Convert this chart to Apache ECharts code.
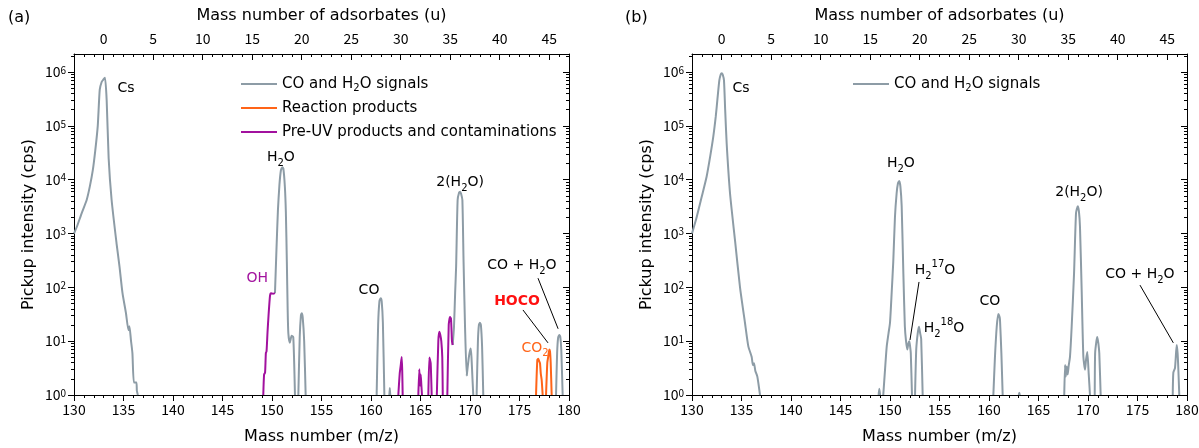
<!DOCTYPE html>
<html>
<head>
<meta charset="utf-8">
<script src="https://cdn.jsdelivr.net/npm/echarts@6/dist/echarts.min.js"></script>
<style>
  html, body { margin: 0; padding: 0; background: #fff; }
  #chart { width: 1199px; height: 448px; }
</style>
</head>
<body>
<div id="chart"></div>
<script>
// ---- data (m/z, counts per second); null = gap in the trace ----
// panel (a)
const grayAMz = [130.0, 130.3, 130.78, 131.28, 131.6, 131.9, 132.15, 132.4, 132.6, 132.8, 132.95, 133.13, 133.3, 133.5, 133.8, 134.3, 134.6, 134.9, 135.25, 135.5, 135.6, 135.75, 135.9, 136.05, 136.3, 136.35, 136.45,
  143,
  150.3, 150.45, 150.6, 150.75, 150.9, 151.05, 151.15, 151.3, 151.4, 151.5, 151.58, 151.65, 151.8, 151.98, 152.15, 152.32,
  152.5,
  152.66, 152.8, 152.92, 153.0, 153.1, 153.25, 153.4,
  157,
  160.57, 160.72, 160.85, 160.98, 161.08, 161.2, 161.35,
  161.6,
  161.85, 161.9, 161.95,
  165,
  168.25, 168.38, 168.5, 168.6, 168.75, 168.9, 169.0, 169.1, 169.23, 169.35, 169.5, 169.67, 169.73, 169.85, 169.95, 170.07, 170.15, 170.25, 170.33,
  170.5,
  170.67, 170.8, 170.9, 171.0, 171.1, 171.22, 171.34,
  175,
  178.69, 178.8, 178.9, 179.02, 179.12, 179.22, 179.36];
const grayACps = [1000, 1350, 2400, 4200, 7500, 15000, 35000, 100000, 470000, 660000, 720000, 780000, 300000, 25000, 4200, 650, 240, 78, 33, 16, 19, 10.5, 6, 1.7, 1.7, 1.2, 1,
  null,
  78, 500, 2750, 8000, 15000, 17000, 16000, 7400, 2500, 300, 40, 14, 9.3, 12.6, 11.8, 1,
  null,
  1, 12, 30, 33, 28, 10, 1,
  null,
  1, 20, 55, 63, 55, 22, 1,
  null,
  1, 1.35, 1,
  null,
  8.5, 18, 80, 250, 4200, 5800, 6000, 5500, 4200, 300, 18, 2.3, 2.3, 4.5, 6, 7.3, 5, 2, 1,
  null,
  1, 10, 20, 22, 20, 8, 1,
  null,
  1, 6, 11.5, 13, 12, 7, 1];

const orangeAMz = [176.67, 176.8, 176.9, 177.0, 177.07, 177.15, 177.24, 177.34,
  177.5,
  177.68, 177.81, 177.9, 178.01, 178.08, 178.15, 178.25];
const orangeACps = [1, 4.5, 4.7, 4.2, 3.9, 2.5, 1.9, 1,
  null,
  1, 4, 5.1, 7, 6.5, 4, 1];

const purpleAMz = [149.12, 149.2, 149.3, 149.38, 149.45, 149.55, 149.65, 149.8, 149.9, 150.1, 150.3,
  155,
  162.76, 162.9, 163.0, 163.1, 163.15, 163.2,
  164,
  164.78, 164.88, 164.95, 165.02, 165.08, 165.15,
  165.5,
  165.79, 165.89, 165.96, 166.03, 166.13,
  166.4,
  166.65, 166.8, 166.9, 167.0, 167.1, 167.2, 167.25,
  167.5,
  167.71, 167.85, 167.98, 168.08, 168.18, 168.25];
const purpleACps = [1, 2.4, 2.6, 6, 6.5, 15, 30, 70, 78, 76, 78,
  null,
  1, 2.5, 3.5, 5.1, 3, 1,
  null,
  1, 3, 1.5, 2.4, 1.6, 1,
  null,
  1, 5, 4.5, 3.9, 1,
  null,
  1, 10, 15, 13, 10, 5, 1,
  null,
  1, 20, 28, 26, 10, 8.5];

// panel (b)
const grayBMz = [130.0, 130.47, 130.98, 131.48, 131.85, 132.15, 132.4, 132.56, 132.76, 132.9, 133.0, 133.1, 133.23, 133.35, 133.5, 133.84, 134.34, 134.85, 135.35, 135.69, 136.03, 136.15, 136.26, 136.4, 136.6, 136.87,
  143,
  148.85, 148.92, 149.0,
  149.15,
  149.32, 149.5, 149.67, 149.85, 150.0, 150.17, 150.33, 150.5, 150.67, 150.8, 150.93, 151.05, 151.18, 151.35, 151.5, 151.62, 151.75, 151.85, 151.95, 152.03, 152.1, 152.22,
  152.4,
  152.53, 152.65, 152.8, 152.93, 153.05, 153.15, 153.3,
  157,
  160.44, 160.6, 160.78, 160.94, 161.05, 161.11, 161.25, 161.38,
  162,
  163.0, 163.06, 163.12,
  165,
  167.6, 167.68, 167.75, 167.85, 167.95, 168.05, 168.18, 168.35, 168.59, 168.79, 168.96, 169.08, 169.19, 169.36, 169.53, 169.7, 169.8, 169.93, 170.07, 170.2,
  170.45,
  170.68, 170.72, 170.85, 170.94, 171.05, 171.14, 171.28,
  175,
  178.56, 178.62, 178.79, 178.96, 179.05, 179.12, 179.22];
const grayBCps = [1000, 2000, 4800, 11500, 28000, 63000, 150000, 300000, 700000, 900000, 950000, 900000, 700000, 200000, 48000, 5600, 760, 100, 22, 8, 5.1, 3.6, 3.9, 2.8, 2.2, 1,
  null,
  1, 1.3, 1,
  null,
  1, 3, 8, 14, 22, 80, 300, 2000, 5600, 8500, 9500, 7500, 3200, 180, 19, 10, 7, 9, 10, 8, 6, 1,
  null,
  1, 7, 14, 18.5, 14, 11, 1,
  null,
  1, 5, 18.5, 32, 29, 25, 6, 1,
  null,
  1, 1.1, 1,
  null,
  1, 3.6, 2.2, 3.4, 2.4, 3.5, 5.1, 18.5, 180, 2400, 3200, 2600, 1340, 89, 5.2, 2.95, 4.5, 6.3, 2.5, 1,
  null,
  1, 6, 10, 12, 9, 6, 1,
  null,
  1, 2.6, 3.2, 8.5, 6, 3.2, 1];

// axis ticks
const topTicks = [0, 5, 10, 15, 20, 25, 30, 35, 40, 45];
const decadeExps = [0, 1, 2, 3, 4, 5, 6];

const GRAY = 'CO and H2O signals';
const ORANGE = 'Reaction products';
const PURPLE = 'Pre-UV products and contaminations';

const FONT_TXT = '"DejaVu Sans", sans-serif';
const FONT_NUM = '"Noto Sans CJK JP", "Noto Sans", sans-serif';
const C_GRAY = '#8d9ca6';
const C_ORANGE = '#ff6418';
const C_PURPLE = '#a2119e';

const Y_TOP_EXP = 6.335; // top border of the plot in decades
const X_MIN = 130, X_MAX = 180, U_OFFSET = 133;

const pairs = (xs, ys) => xs.map((x, i) => [x, ys[i]]);

// minor ticks on the log axis (2..9 x 10^n), in decade units
const minorExps = [];
for (let n = 0; n <= 6; n++) {
  for (let k = 2; k <= 9; k++) {
    const e = n + Math.log10(k);
    if (e < Y_TOP_EXP) minorExps.push(e);
  }
}
const topMinor = [];
for (let u = X_MIN - U_OFFSET + 1; u < X_MAX - U_OFFSET; u++) topMinor.push(u);

const richFor = (font, size) => ({
  sub: { fontSize: size, lineHeight: size, verticalAlign: 'bottom', fontFamily: font },
  sup: { fontSize: size, lineHeight: size, verticalAlign: 'top', fontFamily: font }
});

const chart = echarts.init(document.getElementById('chart'));

const grids = [
  { left: 74, right: 630, top: 54, bottom: 53, outerBoundsMode: 'none', containLabel: false },
  { left: 692, right: 12, top: 54, bottom: 53, outerBoundsMode: 'none', containLabel: false }
];

const noLine = { show: false, onZero: false };
const xAxes = [];
const yAxes = [];
grids.forEach((g, p) => {
  // bottom m/z axis
  xAxes.push({
    type: 'value', gridIndex: p, position: 'bottom', min: X_MIN, max: X_MAX, interval: 5,
    name: 'Mass number (m/z)', nameLocation: 'middle', nameGap: 34,
    nameTextStyle: { fontSize: 16, color: '#000', fontFamily: FONT_TXT },
    axisLine: { show: true, onZero: false, lineStyle: { color: '#000', width: 1 } },
    axisTick: { show: true, inside: false, length: 6, lineStyle: { color: '#000' } },
    minorTick: { show: true, splitNumber: 5, length: 3, lineStyle: { color: '#000' } },
    axisLabel: { fontSize: 14, color: '#000', margin: 8, fontFamily: FONT_NUM },
    splitLine: { show: false }
  });
  // top adsorbate axis
  xAxes.push({
    type: 'value', gridIndex: p, position: 'top', min: X_MIN - U_OFFSET, max: X_MAX - U_OFFSET,
    name: 'Mass number of adsorbates (u)', nameLocation: 'middle', nameGap: 30,
    nameTextStyle: { fontSize: 16, color: '#000', fontFamily: FONT_TXT },
    axisLine: { show: true, onZero: false, lineStyle: { color: '#000', width: 1 } },
    axisTick: { show: true, inside: true, length: 6, customValues: topTicks, lineStyle: { color: '#000' } },
    axisLabel: { fontSize: 14, color: '#000', margin: 8, customValues: topTicks, fontFamily: FONT_NUM },
    splitLine: { show: false }
  });
  xAxes.push({
    type: 'value', gridIndex: p, position: 'top', min: X_MIN - U_OFFSET, max: X_MAX - U_OFFSET,
    axisLine: noLine,
    axisTick: { show: true, inside: true, length: 3, customValues: topMinor, lineStyle: { color: '#000' } },
    axisLabel: { show: false },
    splitLine: { show: false }
  });

  // log axis that carries the data
  yAxes.push({ type: 'log', logBase: 10, gridIndex: p, min: 1, max: Math.pow(10, Y_TOP_EXP), show: false });
  // left decades
  yAxes.push({
    type: 'value', gridIndex: p, position: 'left', min: 0, max: Y_TOP_EXP,
    name: 'Pickup intensity (cps)', nameLocation: 'middle', nameGap: 37,
    nameTextStyle: { fontSize: 16, color: '#000', fontFamily: FONT_TXT },
    axisLine: { show: true, onZero: false, lineStyle: { color: '#000', width: 1 } },
    axisTick: { show: true, inside: false, length: 6, customValues: decadeExps, lineStyle: { color: '#000' } },
    axisLabel: {
      customValues: decadeExps, margin: 8, fontSize: 14, color: '#000', fontFamily: FONT_NUM,
      formatter: v => '10{sup|' + Math.round(v) + '}',
      rich: richFor(FONT_NUM, 10)
    },
    splitLine: { show: false }
  });
  yAxes.push({
    type: 'value', gridIndex: p, position: 'left', min: 0, max: Y_TOP_EXP,
    axisLine: noLine,
    axisTick: { show: true, inside: false, length: 3, customValues: minorExps, lineStyle: { color: '#000' } },
    axisLabel: { show: false },
    splitLine: { show: false }
  });
  // right mirror
  yAxes.push({
    type: 'value', gridIndex: p, position: 'right', min: 0, max: Y_TOP_EXP,
    axisLine: { show: true, onZero: false, lineStyle: { color: '#000', width: 1 } },
    axisTick: { show: true, inside: true, length: 6, customValues: decadeExps, lineStyle: { color: '#000' } },
    axisLabel: { show: false },
    splitLine: { show: false }
  });
  yAxes.push({
    type: 'value', gridIndex: p, position: 'right', min: 0, max: Y_TOP_EXP,
    axisLine: noLine,
    axisTick: { show: true, inside: true, length: 3, customValues: minorExps, lineStyle: { color: '#000' } },
    axisLabel: { show: false },
    splitLine: { show: false }
  });
});

const lineSeries = (name, p, data, color, extra) => Object.assign({
  name: name, type: 'line', xAxisIndex: 3 * p, yAxisIndex: 5 * p,
  data: data, symbol: 'none', showSymbol: false, connectNulls: false, clip: true,
  smooth: 0.2, lineStyle: { color: color, width: 2 }, itemStyle: { color: color },
  silent: true
}, extra || {});

const tag = (coord, text, style) => ({
  coord: coord, symbolSize: 0,
  label: Object.assign({ show: true, position: 'inside', formatter: text }, style || {})
});

const leader = (a, b) => [{ coord: a }, { coord: b }];

const markLabelBase = {
  show: true, fontSize: 14, lineHeight: 22, color: '#000', fontFamily: FONT_TXT, rich: richFor(FONT_TXT, 10)
};
const markLineBase = {
  symbol: ['none', 'none'], silent: true, animation: false,
  lineStyle: { color: '#000', width: 1, type: 'solid' }, label: { show: false }
};

const legendBase = {
  orient: 'vertical', icon: 'rect', itemWidth: 36, itemHeight: 2, itemGap: 6, selectedMode: false,
  textStyle: { fontSize: 15, lineHeight: 18, color: '#000', fontFamily: FONT_TXT, rich: richFor(FONT_TXT, 10) },
  formatter: n => n === GRAY ? 'CO and H{sub|2}O signals' : n
};

const option = {
  animation: false,
  backgroundColor: '#fff',
  textStyle: { fontFamily: FONT_TXT },
  grid: grids,
  xAxis: xAxes,
  yAxis: yAxes,
  legend: [
    Object.assign({ data: [GRAY, ORANGE, PURPLE], left: 236, top: 70 }, legendBase),
    Object.assign({ data: [GRAY], left: 848, top: 70 }, legendBase)
  ],
  graphic: [
    { type: 'text', left: 8, top: 10, style: { text: '(a)', fontSize: 16, fill: '#000', fontFamily: FONT_TXT } },
    { type: 'text', left: 625, top: 10, style: { text: '(b)', fontSize: 16, fill: '#000', fontFamily: FONT_TXT } }
  ],
  series: [
    lineSeries(GRAY, 0, pairs(grayAMz, grayACps), C_GRAY, {
      markPoint: {
        silent: true, animation: false, label: markLabelBase,
        data: [
          tag([135.25, 5.0e5], 'Cs'),
          tag([150.9, 2.6e4], 'H{sub|2}O'),
          tag([148.5, 150], 'OH', { color: C_PURPLE }),
          tag([159.8, 89], 'CO'),
          tag([169.0, 9000], '2(H{sub|2}O)'),
          tag([175.25, 260], 'CO + H{sub|2}O'),
          tag([174.75, 56], 'HOCO', { color: '#ff1010', fontWeight: 'bold' }),
          tag([176.57, 7.5], 'CO{sub|2}', { color: C_ORANGE })
        ]
      },
      markLine: Object.assign({
        data: [
          leader([176.87, 148], [178.9, 17]),
          leader([175.35, 38], [177.88, 9.3])
        ]
      }, markLineBase)
    }),
    lineSeries(ORANGE, 0, pairs(orangeAMz, orangeACps), C_ORANGE),
    lineSeries(PURPLE, 0, pairs(purpleAMz, purpleACps), C_PURPLE),
    lineSeries(GRAY, 1, pairs(grayBMz, grayBCps), C_GRAY, {
      markPoint: {
        silent: true, animation: false, label: markLabelBase,
        data: [
          tag([134.95, 5.0e5], 'Cs'),
          tag([151.1, 2.0e4], 'H{sub|2}O'),
          tag([154.55, 210], 'H{sub|2}{sup|17}O'),
          tag([155.45, 17], 'H{sub|2}{sup|18}O'),
          tag([160.1, 54], 'CO'),
          tag([169.1, 5900], '2(H{sub|2}O)'),
          tag([175.25, 177], 'CO + H{sub|2}O')
        ]
      },
      markLine: Object.assign({
        data: [
          leader([152.93, 126], [152.02, 10.5]),
          leader([175.25, 110], [178.62, 9.3])
        ]
      }, markLineBase)
    })
  ]
};

chart.setOption(option);
</script>
</body>
</html>
